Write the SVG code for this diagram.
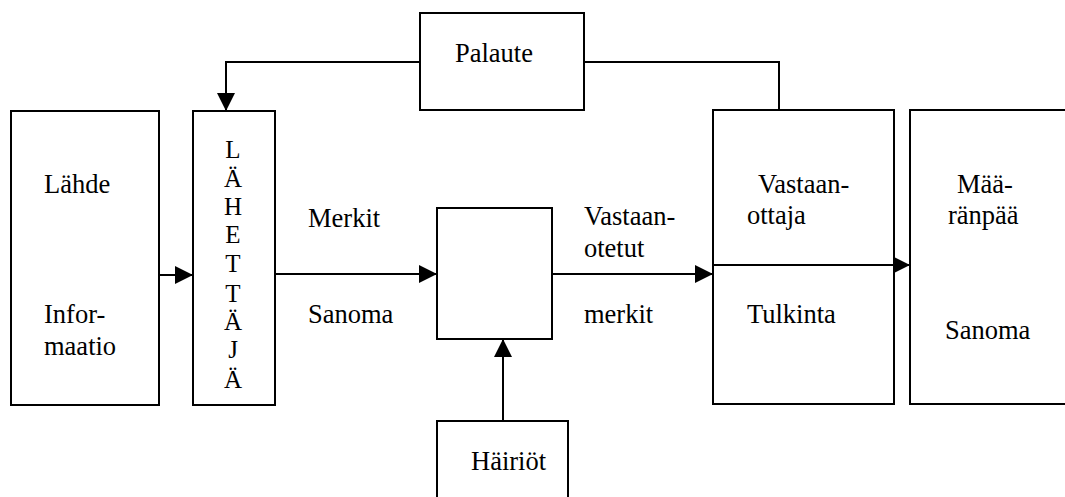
<svg xmlns="http://www.w3.org/2000/svg" width="1065" height="497" viewBox="0 0 1065 497">
  <style>
    .box { fill: #fff; stroke: #000; stroke-width: 2; }
  </style>
  <defs>
    <marker id="arrow" viewBox="0 0 18 18" refX="18" refY="9" markerWidth="18" markerHeight="18" markerUnits="userSpaceOnUse" orient="auto">
      <path d="M0,0 L18,9 L0,18 Z" fill="#000"/>
    </marker>
  </defs>
  <rect width="1065" height="497" fill="#fff"/>

  <!-- connectors -->
  <g id="connectors" fill="none" stroke="#000" stroke-width="2">
    <!-- feedback loop: receiver up to Palaute, Palaute back to sender -->
    <polyline points="779,110 779,62 584,62"/>
    <polyline points="420,62 226,62 226,111" marker-end="url(#arrow)"/>
    <!-- source to sender -->
    <line x1="159" y1="275" x2="193" y2="275" marker-end="url(#arrow)"/>
    <!-- sender to channel -->
    <line x1="275" y1="274" x2="437" y2="274" marker-end="url(#arrow)"/>
    <!-- channel to receiver -->
    <line x1="552" y1="274" x2="713" y2="274" marker-end="url(#arrow)"/>
    <!-- noise into channel -->
    <line x1="503" y1="421" x2="503" y2="339" marker-end="url(#arrow)"/>
    <!-- receiver to destination -->
    <line x1="894" y1="265" x2="910" y2="265" marker-end="url(#arrow)"/>
  </g>

  <g id="nodes" font-family="Liberation Serif, Times New Roman, serif" font-size="26.5" fill="#000">
    <g id="palaute">
      <rect class="box" x="420" y="13" width="164" height="97"/>
      <text x="455" y="62">Palaute</text>
    </g>

    <g id="lahde">
      <rect class="box" x="11" y="111" width="148" height="294"/>
      <text x="44" y="193">Lähde</text>
      <text x="44" y="323">Infor-</text>
      <text x="44" y="355">maatio</text>
    </g>

    <g id="lahettaja">
      <rect class="box" x="193" y="111" width="82" height="294"/>
      <!-- name stacked one letter per line -->
      <g text-anchor="middle" font-size="25">
        <text x="233" y="158">L</text>
        <text x="233" y="187">Ä</text>
        <text x="233" y="215">H</text>
        <text x="233" y="243">E</text>
        <text x="233" y="272">T</text>
        <text x="233" y="302">T</text>
        <text x="233" y="330">Ä</text>
        <text x="233" y="358">J</text>
        <text x="233" y="388">Ä</text>
      </g>
    </g>

    <g id="merkit-label">
      <text x="308" y="227">Merkit</text>
      <text x="308" y="323">Sanoma</text>
    </g>

    <g id="kanava">
      <rect class="box" x="437" y="208" width="115" height="131"/>
    </g>

    <g id="vastaanotetut-label">
      <text x="584" y="225">Vastaan-</text>
      <text x="584" y="257">otetut</text>
      <text x="584" y="323">merkit</text>
    </g>

    <g id="hairiot">
      <rect class="box" x="437" y="421" width="131" height="90"/>
      <text x="471" y="470">Häiriöt</text>
    </g>

    <g id="vastaanottaja">
      <rect class="box" x="713" y="110" width="181" height="294"/>
      <line x1="713" y1="265" x2="894" y2="265" stroke="#000" stroke-width="2"/>
      <text x="758" y="193">Vastaan-</text>
      <text x="747" y="224">ottaja</text>
      <text x="747" y="323">Tulkinta</text>
    </g>

    <g id="maaranpaa">
      <rect class="box" x="910" y="110" width="160" height="294"/>
      <text x="957" y="193">Mää-</text>
      <text x="948" y="224">ränpää</text>
      <text x="945" y="339">Sanoma</text>
    </g>
  </g>
</svg>
